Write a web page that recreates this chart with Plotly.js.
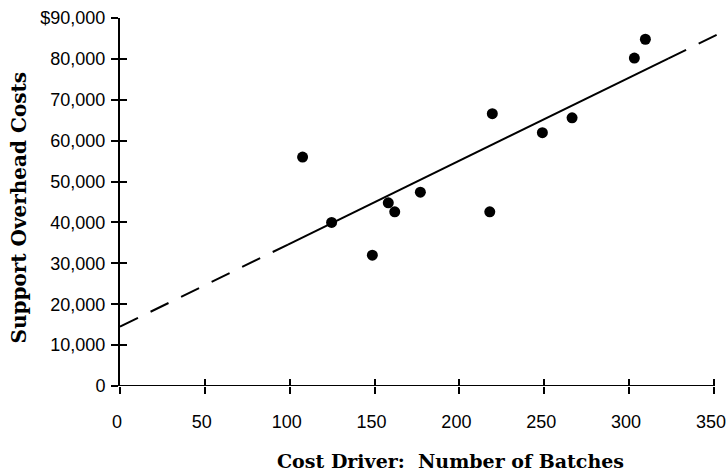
<!DOCTYPE html>
<html>
<head>
<meta charset="utf-8">
<script src="https://cdn.plot.ly/plotly-3.0.1.min.js"></script>
<style>html,body{margin:0;padding:0;background:#fff;}#chart{width:727px;height:472px;}</style>
</head>
<body>
<div id="chart"></div>
<script>
// Data
const batches = [107.6, 124.7, 148.7, 158.1, 161.9, 177, 217.9, 219.4, 248.9, 266.4, 303.1, 309.6];
const overheadCosts = [56000, 40000, 32000, 44800, 42600, 47400, 42600, 66600, 61950, 65600, 80200, 84800];

// Regression line
const lineIntercept = 14500;
const lineSlope = 203;
const solidX = [99, 323];
const dashLowX = [0, 99];
const dashHighX = [323, 358];

const xTickVals = [0, 50, 100, 150, 200, 250, 300, 350];
const xTickText = ['0', '50', '100', '150', '200', '250', '300', '350'];
const yTickVals = [0, 10000, 20000, 30000, 40000, 50000, 60000, 70000, 80000, 90000];
const yTickText = ['0', '10,000', '20,000', '30,000', '40,000', '50,000', '60,000', '70,000', '80,000', '$90,000'];

const fit = xs => xs.map(x => lineIntercept + lineSlope * x);

const traces = [
  {x: dashLowX, y: fit(dashLowX), mode: 'lines', line: {color: '#000', width: 2, dash: '20px,14px'}, hoverinfo: 'skip'},
  {x: dashHighX, y: fit(dashHighX), mode: 'lines', line: {color: '#000', width: 2, dash: '20px,14px'}, hoverinfo: 'skip'},
  {x: solidX, y: fit(solidX), mode: 'lines', line: {color: '#000', width: 2}, hoverinfo: 'skip'},
  {x: batches, y: overheadCosts, mode: 'markers', marker: {color: '#000', size: 11}},
  {x: [0], y: [0], xaxis: 'x2', yaxis: 'y2', mode: 'markers', marker: {opacity: 0}, hoverinfo: 'skip'}
];

const xRange = [0, 357.7];
const yRange = [0, 90000];
const tickFont = {family: 'Liberation Sans, Arial, sans-serif', size: 18, color: '#000'};
const xTitleFont = {family: 'DejaVu Serif, Liberation Serif, serif', size: 19, color: '#000'};
const yTitleFont = {family: 'DejaVu Serif, Liberation Serif, serif', size: 20, color: '#000'};

const layout = {
  width: 727, height: 472,
  margin: {l: 120, r: 0, t: 18, b: 86},
  paper_bgcolor: '#fff', plot_bgcolor: '#fff',
  showlegend: false,
  xaxis: {
    range: xRange, tickvals: xTickVals, ticktext: xTickText,
    showgrid: false, zeroline: false, showline: false,
    ticks: 'outside', ticklen: 7, tickwidth: 2, tickcolor: '#000',
    tickfont: tickFont, ticklabelstandoff: 12, ticklabelshift: -3, ticklabeloverflow: 'allow'
  },
  yaxis: {
    range: yRange, tickvals: yTickVals, ticktext: yTickText,
    showgrid: false, zeroline: false, showline: true, linewidth: 2, linecolor: '#000',
    ticks: 'outside', ticklen: 7, tickwidth: 2, tickcolor: '#000',
    tickfont: tickFont, ticklabelstandoff: 2
  },
  xaxis2: {
    overlaying: 'x', range: xRange, tickvals: xTickVals, showticklabels: false,
    showgrid: false, zeroline: false, showline: false,
    ticks: 'inside', ticklen: 7, tickwidth: 2, tickcolor: '#000', side: 'bottom', anchor: 'y2'
  },
  yaxis2: {
    overlaying: 'y', range: yRange, tickvals: yTickVals, showticklabels: false,
    showgrid: false, zeroline: false, showline: false,
    ticks: 'inside', ticklen: 7, tickwidth: 2, tickcolor: '#000', side: 'left', anchor: 'x2'
  },
  shapes: [
    {type: 'line', xref: 'x', yref: 'y', x0: 0, x1: 350, y0: 0, y1: 0, line: {color: '#000', width: 2}}
  ],
  annotations: [
    {text: '<b>Cost Driver:\u00a0 Number of Batches</b>', xref: 'paper', yref: 'paper',
     x: 0.544, y: -0.203, xanchor: 'center', yanchor: 'middle', showarrow: false, font: xTitleFont},
    {text: '<b>Support Overhead Costs</b>', xref: 'paper', yref: 'paper',
     x: -0.168, y: 0.485, xanchor: 'center', yanchor: 'middle', textangle: -90, showarrow: false, font: yTitleFont}
  ]
};

Plotly.newPlot('chart', traces, layout, {displayModeBar: false, staticPlot: true});
</script>
</body>
</html>
